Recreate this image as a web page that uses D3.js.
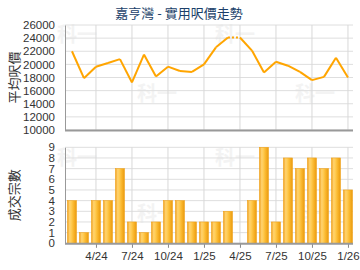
<!DOCTYPE html>
<html>
<head>
<meta charset="utf-8">
<script src="https://cdn.jsdelivr.net/npm/d3@7"></script>
<style>
  body { margin: 0; background: #fff; }
  svg { display: block; font-family: "Liberation Sans", Arial, sans-serif; }
</style>
</head>
<body>
<svg id="chart" width="360" height="270"></svg>
<script>
// months Feb 2024 .. Jan 2026
const months = ['2/24','3/24','4/24','5/24','6/24','7/24','8/24','9/24','10/24','11/24','12/24','1/25',
  '2/25','3/25','4/25','5/25','6/25','7/25','8/25','9/25','10/25','11/25','12/25','1/26'];
const avgPrice = [22000, 17900, 19650, 20200, 20800, 17250, 21500, 18150, 19650, 19000, 18850, 20000,
  22600, 24100, 24100, 22100, 18750, 20400, 19800, 18850, 17600, 18100, 21000, 18000];
const txCount = [4, 1, 4, 4, 7, 2, 1, 2, 4, 4, 2, 2, 2, 3, 0, 4, 9, 2, 8, 7, 8, 7, 8, 5];
const xTickMonths = ['4/24','7/24','10/24','1/25','4/25','7/25','10/25','1/26'];
const priceTicks = [10000, 12000, 14000, 16000, 18000, 20000, 22000, 24000, 26000];
const countTicks = [0, 1, 2, 3, 4, 5, 6, 7, 8, 9];

const svg = d3.select('#chart');
const left = 65, right = 353;

const x = d3.scaleLinear()
  .domain([-0.58, 23.42])
  .range([left, right]);
const xTicks = xTickMonths.map(m => months.indexOf(m));

const yPrice = d3.scaleLinear().domain([10000, 26000]).range([130, 25]);
const yCount = d3.scaleLinear().domain([0, 9]).range([243.3, 147.3]);

// title
svg.append('text')
  .attr('x', 179).attr('y', 18)
  .attr('text-anchor', 'middle')
  .attr('fill', '#1b3f6a')
  .style('font-family', '"Noto Sans CJK TC", sans-serif')
  .style('font-size', '13px')
  .text('嘉亨灣 - 實用呎價走勢');

// watermark
const wm = [[57, 42], [215, 42], [137, 101], [295, 101], [57, 165], [215, 165], [137, 221], [295, 221]];
svg.append('g').selectAll('text')
  .data(wm)
  .join('text')
  .attr('x', d => d[0]).attr('y', d => d[1])
  .attr('fill', '#f3f3f3')
  .style('font-family', '"Noto Sans CJK TC", sans-serif')
  .style('font-size', '20px')
  .style('font-weight', 'bold')
  .text('科一');

function grid(g, y, ticks) {
  g.selectAll('.h')
    .data(ticks)
    .join('line')
    .attr('x1', left).attr('x2', right)
    .attr('y1', d => y(d)).attr('y2', d => y(d))
    .attr('stroke', '#dedede');
  g.selectAll('.v')
    .data(xTicks)
    .join('line')
    .attr('x1', d => x(d)).attr('x2', d => x(d))
    .attr('y1', y.range()[1]).attr('y2', y.range()[0])
    .attr('stroke', '#d8d8d8');
}

function yAxis(g, y, ticks) {
  g.attr('transform', `translate(${left},0)`)
    .call(d3.axisLeft(y).tickValues(ticks).tickSize(0).tickPadding(10).tickFormat(d3.format('')))
    .call(g => g.select('.domain').attr('stroke', '#999'))
    .call(g => g.selectAll('text').attr('fill', '#333').style('font-size', '11.5px'));
}

// ---- price chart ----
svg.append('g').call(g => grid(g, yPrice, priceTicks));

const pts = avgPrice.map((v, i) => [x(i), yPrice(v)]);
const line = d3.line();
for (let i = 1; i < pts.length; i++) {
  svg.append('path')
    .attr('d', line([pts[i - 1], pts[i]]))
    .attr('fill', 'none')
    .attr('stroke', '#ffa500')
    .attr('stroke-width', 2)
    .attr('stroke-linejoin', 'round')
    .attr('stroke-dasharray', txCount[i] === 0 ? '2,2' : null);
}

svg.append('g').call(g => yAxis(g, yPrice, priceTicks));
svg.append('line')
  .attr('x1', left).attr('x2', right)
  .attr('y1', yPrice(10000) + 0.5).attr('y2', yPrice(10000) + 0.5)
  .attr('stroke', '#999').attr('stroke-width', 2);

svg.append('text')
  .attr('transform', `translate(19,${(yPrice.range()[0] + yPrice.range()[1]) / 2}) rotate(-90)`)
  .attr('text-anchor', 'middle')
  .attr('fill', '#333')
  .style('font-family', '"Noto Sans CJK TC", sans-serif')
  .style('font-size', '13px')
  .text('平均呎價');

// ---- count chart ----
svg.append('g').call(g => grid(g, yCount, countTicks));

const defs = svg.append('defs');
const grad = defs.append('linearGradient').attr('id', 'barGrad')
  .attr('x1', '0%').attr('x2', '100%').attr('y1', '0%').attr('y2', '0%');
[[0, '#f0a020'], [0.25, '#ffd370'], [0.45, '#ffca50'], [0.7, '#f9b52a'], [1, '#e99a10']]
  .forEach(s => grad.append('stop').attr('offset', s[0]).attr('stop-color', s[1]));

const barW = 9;
svg.append('g')
  .selectAll('rect')
  .data(txCount)
  .join('rect')
  .attr('x', (d, i) => x(i) - barW / 2)
  .attr('y', d => yCount(d))
  .attr('width', barW)
  .attr('height', d => yCount(0) - yCount(d))
  .attr('fill', 'url(#barGrad)')
  .attr('stroke', '#f0a21a')
  .attr('stroke-width', 0.6);

svg.append('g').call(g => yAxis(g, yCount, countTicks));

svg.append('g')
  .attr('transform', `translate(0,${yCount(0) + 0.5})`)
  .call(d3.axisBottom(x).tickValues(xTicks).tickSize(4).tickPadding(4).tickFormat(i => months[i]))
  .call(g => g.select('.domain').remove())
  .call(g => g.selectAll('line').attr('stroke', '#888'))
  .call(g => g.selectAll('text').attr('fill', '#333').style('font-size', '11.5px'));
svg.append('line')
  .attr('x1', left).attr('x2', right)
  .attr('y1', yCount(0) + 0.5).attr('y2', yCount(0) + 0.5)
  .attr('stroke', '#999').attr('stroke-width', 2);

svg.append('text')
  .attr('transform', `translate(19,${(yCount.range()[0] + yCount.range()[1]) / 2}) rotate(-90)`)
  .attr('text-anchor', 'middle')
  .attr('fill', '#333')
  .style('font-family', '"Noto Sans CJK TC", sans-serif')
  .style('font-size', '13px')
  .text('成交宗數');
</script>
</body>
</html>
